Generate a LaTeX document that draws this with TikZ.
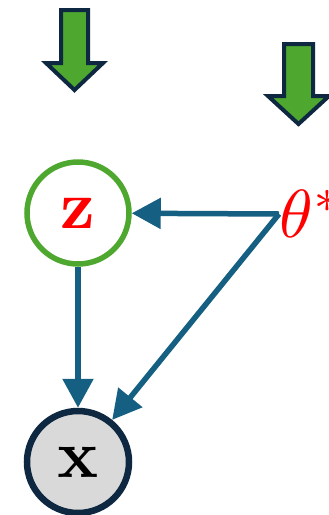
\documentclass[tikz,border=0pt]{standalone}
\usepackage{graphicx}
\usetikzlibrary{arrows.meta}
\definecolor{agreen}{HTML}{4EA72E}
\definecolor{navy}{HTML}{0E2841}
\definecolor{edgeblue}{HTML}{156082}
\definecolor{lgray}{HTML}{D9D9D9}
\newcommand{\bigtxt}[1]{\scalebox{6.8}{$#1$}}
\tikzset{
  bigarrow/.style={fill=agreen, draw=navy, line width=4pt, line join=miter},
  varnode/.style={circle, minimum size=102pt, inner sep=0pt},
  edge/.style={draw=edgeblue, line width=5.5pt, -{Triangle[length=29pt,width=30pt]}},
}
\begin{document}
\begin{tikzpicture}[x=1pt,y=-1pt]
\useasboundingbox (0,0) rectangle (329,515);
% green arrows
\draw[bigarrow] (61,10) -- (88,10) -- (88,63) -- (103,63) -- (74.5,90) -- (46,63) -- (61,63) -- cycle;
\draw[bigarrow] (284,44) -- (313,44) -- (313,96) -- (329,96) -- (298.5,124) -- (268,96) -- (284,96) -- cycle;
% nodes
\node[varnode, draw=agreen, line width=5.5pt, fill=white, text=red] (z) at (78,213) {\bigtxt{\mathbf{z}}};
\node[varnode, draw=navy, line width=6.5pt, fill=lgray] (x) at (78,462) {\bigtxt{\mathbf{x}}};
\node[anchor=west, inner sep=0pt, text=red] (theta) at (279,214) {\bigtxt{\theta^*}};
% edges
\draw[edge] (theta.west) -- (z);
\draw[edge] (theta.west) -- (x);
\draw[edge] (z) -- (x);
\end{tikzpicture}
\end{document}
